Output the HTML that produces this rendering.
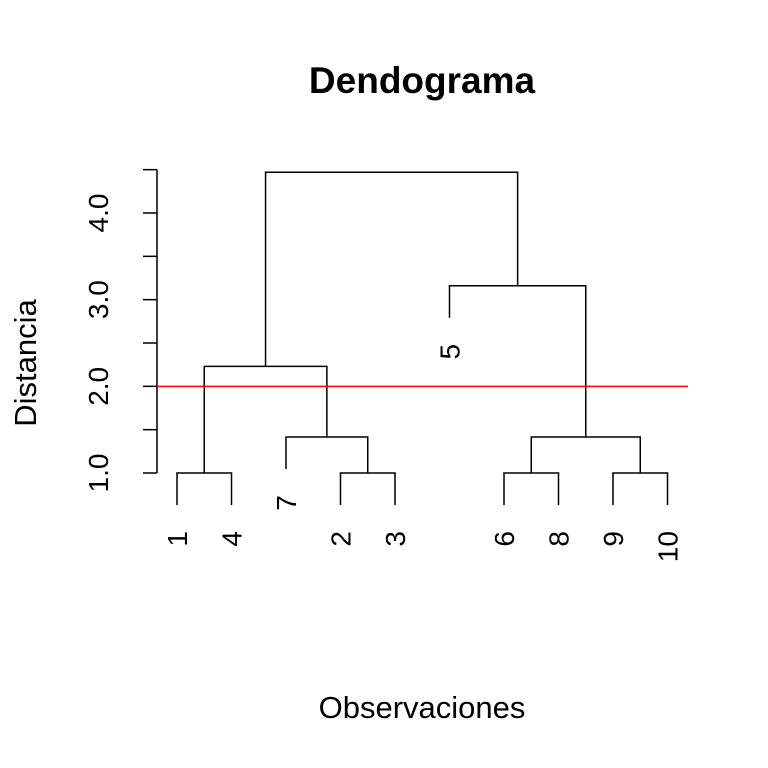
<!DOCTYPE html>
<html><head><meta charset="utf-8"><style>
body{margin:0;background:#fff}
svg{display:block;font-family:"Liberation Sans",sans-serif}
</style></head><body>
<svg id="chart" width="768" height="768" viewBox="0 0 768 768">
<rect width="768" height="768" fill="#fff"/>
<text x="422" y="93" text-anchor="middle" font-size="37" font-weight="bold">Dendograma</text>
<text x="422" y="718" text-anchor="middle" font-size="31">Observaciones</text>
<text transform="translate(36,363) rotate(-90)" text-anchor="middle" font-size="31">Distancia</text>
<g id="axis"></g>
<g id="tree"></g>
<g id="cut"></g>
</svg>
<script>
const labels = ['1','2','3','4','5','6','7','8','9','10'];
const mergeA = [-1,-2,-6,-9,-7,3,1,-5,7];
const mergeB = [-4,-3,-8,-10,2,4,5,6,8];
const heights = [1.0,1.0,1.0,1.0,1.415,1.415,2.23,3.16,4.47];
const leafOrder = [1,4,7,2,3,5,6,8,9,10];
const yTicks = [1.0,1.5,2.0,2.5,3.0,3.5,4.0,4.5];
const yTickLabels = ['1.0','','2.0','','3.0','','4.0',''];
const cutHeight = 2.0;
const hang = 0.37;

const NS='http://www.w3.org/2000/svg';
const xL = i => 177 + i*54.5;
const yS = v => 473 - (v-1)*86.67;
function mk(tag, attrs, parent){const e=document.createElementNS(NS,tag);for(const k in attrs)e.setAttribute(k,attrs[k]);parent.appendChild(e);return e;}
const axis=document.getElementById('axis'), tree=document.getElementById('tree'), cut=document.getElementById('cut');

let l=mk('line',{x1:157,x2:157,y1:yS(yTicks[yTicks.length-1]),y2:yS(yTicks[0]),stroke:'#000','stroke-width':1.5},axis);


yTicks.forEach((t,i)=>{
  const tk=mk('line',{x1:143,x2:157,y1:yS(t),y2:yS(t),stroke:'#000','stroke-width':1.5},axis);
  
  
  if(yTickLabels[i]){
    const tx=mk('text',{transform:`translate(${108},${yS(t)}) rotate(-90)`,'text-anchor':'middle','font-size':28},axis);
    tx.textContent=yTickLabels[i];
    
    
  }
});

const nodeX=[], nodeY=[];
function pos(id){
  if(id<0){
    const i=leafOrder.indexOf(-id);
    return {x:xL(i), y:null, leaf:-id};
  }
  return {x:nodeX[id-1], y:nodeY[id-1]};
}
for(let k=0;k<heights.length;k++){
  const a=pos(mergeA[k]), b=pos(mergeB[k]);
  const h=yS(heights[k]);
  [a,b].forEach(c=>{
    let bottom=c.y;
    if(c.leaf){
      bottom=yS(heights[k]-hang);
      const tx=mk('text',{transform:`translate(${c.x+10},${bottom+26}) rotate(-90)`,'text-anchor':'end','font-size':28},tree);
      tx.textContent=labels[c.leaf-1];
      
      
    }
    const v=mk('line',{x1:c.x,x2:c.x,y1:h,y2:bottom,stroke:'#000','stroke-width':1.5},tree);
    
    
  });
  const hl=mk('line',{x1:a.x,x2:b.x,y1:h,y2:h,stroke:'#000','stroke-width':1.5,'stroke-linecap':'square'},tree);
  
  
  nodeX.push((a.x+b.x)/2); nodeY.push(h);
}
const cl=mk('line',{x1:157,x2:688,y1:yS(cutHeight),y2:yS(cutHeight),stroke:'#ff0000','stroke-width':1.5},cut);


</script>
</body></html>
